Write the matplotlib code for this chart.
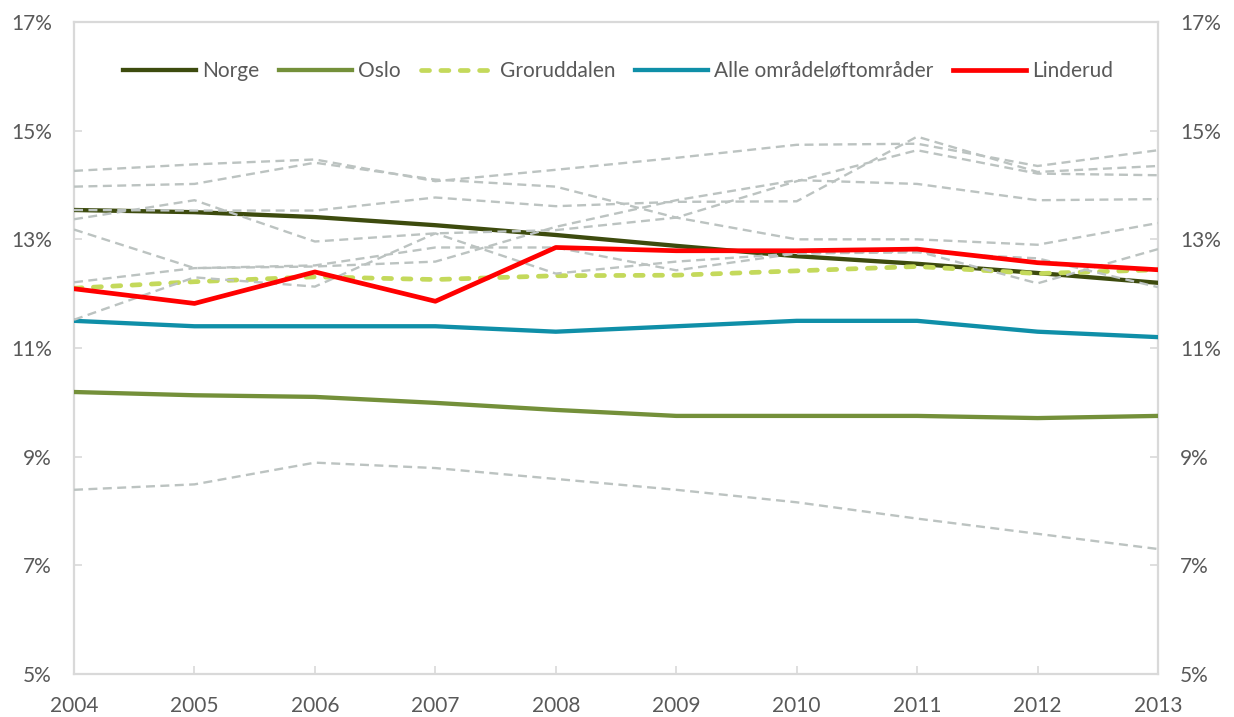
import numpy as np
import matplotlib.pyplot as plt
from matplotlib.ticker import FuncFormatter

# values (percent)
years = [2004, 2005, 2006, 2007, 2008, 2009, 2010, 2011, 2012, 2013]
norge = [13.54, 13.50, 13.41, 13.26, 13.08, 12.88, 12.69, 12.55, 12.38, 12.20]
oslo = [10.19, 10.13, 10.10, 9.99, 9.86, 9.75, 9.75, 9.75, 9.71, 9.75]
groruddalen = [12.10, 12.22, 12.31, 12.26, 12.33, 12.34, 12.42, 12.50, 12.37, 12.44]
alle_omrader = [11.50, 11.40, 11.40, 11.40, 11.30, 11.40, 11.50, 11.50, 11.30, 11.20]
linderud = [12.09, 11.82, 12.40, 11.86, 12.85, 12.79, 12.79, 12.82, 12.57, 12.44]

# the other areas, drawn as grey dashed lines without legend entries
omr_a = [14.26, 14.38, 14.47, 14.07, 14.28, 14.50, 14.74, 14.76, 14.35, 14.64]
omr_b = [13.97, 14.02, 14.41, 14.10, 13.97, 13.40, 13.00, 13.00, 12.90, 13.30]
omr_c = [13.54, 13.53, 13.53, 13.77, 13.61, 13.69, 13.70, 14.89, 14.24, 14.35]
omr_d = [13.37, 13.72, 12.96, 13.11, 13.17, 13.40, 14.07, 14.64, 14.21, 14.18]
omr_e = [13.18, 12.47, 12.52, 12.85, 12.85, 12.43, 12.74, 12.78, 12.19, 12.82]
omr_f = [12.21, 12.47, 12.50, 12.59, 13.23, 13.72, 14.09, 14.02, 13.72, 13.74]
omr_g = [11.52, 12.30, 12.13, 13.11, 12.37, 12.59, 12.74, 12.76, 12.65, 12.12]
omr_h = [8.39, 8.49, 8.89, 8.79, 8.59, 8.39, 8.16, 7.86, 7.58, 7.30]
grey_lines = [omr_a, omr_b, omr_c, omr_d, omr_e, omr_f, omr_g, omr_h]

yticks = [5, 7, 9, 11, 13, 15, 17]

plt.rcParams['font.family'] = ['Lato', 'DejaVu Sans']

fig = plt.figure(figsize=(12.34, 7.17), dpi=100)
ax = fig.add_axes([0.060, 0.060, 0.8784, 0.9093])

ax.plot(years, norge, color='#3d4b0e', lw=3.1, label='Norge', zorder=3)
ax.plot(years, oslo, color='#74903a', lw=3.1, label='Oslo', zorder=3)
ax.plot(years, groruddalen, color='#c4d95b', lw=3.4, dashes=(1.7, 2.4),
        dash_capstyle='round', label='Groruddalen', zorder=3)
ax.plot(years, alle_omrader, color='#0f8fa8', lw=3.1,
        label='Alle områdeløftområder', zorder=3)
for g in grey_lines:
    ax.plot(years, g, color='#bcc3c1', lw=1.7, dashes=(3.8, 2.3), zorder=4)
ax.plot(years, linderud, color='#ff0000', lw=3.4, label='Linderud', zorder=5)

ax.set_xlim(2004, 2013)
ax.set_ylim(5, 17)
ax.set_xticks(years)
ax.set_yticks(yticks)
ax.yaxis.set_major_formatter(FuncFormatter(lambda v, p: '%d%%' % v))

for s in ax.spines.values():
    s.set_color('#d9d9d9')
    s.set_linewidth(1.6)

ax.tick_params(axis='both', direction='in', length=6, width=1.2,
               color='#d9d9d9', labelcolor='#595959', labelsize=15)
ax.tick_params(axis='y', right=True, labelright=True, pad=16)
ax.tick_params(axis='x', pad=16)

leg = ax.legend(loc='center', bbox_to_anchor=(0.502, 0.925), ncol=5,
                frameon=False, fontsize=15, handlelength=3.5,
                handletextpad=0.3, columnspacing=0.95)
for t in leg.get_texts():
    t.set_color('#595959')

fig.savefig('out.png', dpi=100)
